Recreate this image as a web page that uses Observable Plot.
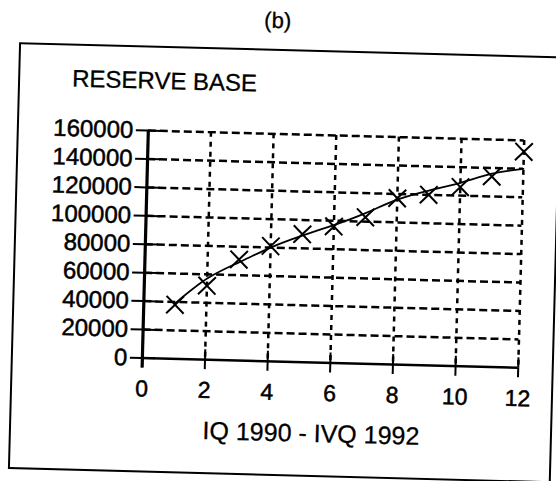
<!DOCTYPE html>
<html>
<head>
<meta charset="utf-8">
<script src="https://cdn.jsdelivr.net/npm/d3@7"></script>
<script src="https://cdn.jsdelivr.net/npm/@observablehq/plot@0.6"></script>
<style>
  html, body { margin: 0; padding: 0; background: #fff; overflow: hidden; }
  #page { position: relative; width: 556px; height: 481px; overflow: hidden; background: #fff; }
  #sheet { position: absolute; left: 0; top: 0; width: 556px; height: 481px;
           transform: rotate(1.5deg); transform-origin: 278px 240px;
           font-family: "Liberation Sans", Arial, sans-serif; color: #000; }
  #frame { position: absolute; left: 14px; top: 49px; width: 543px; height: 427px;
           border: 2.5px solid #000; box-sizing: border-box; }
  #panel { position: absolute; left: 0; top: 10px; width: 544px; text-align: center;
           font-size: 22px; line-height: 22px; -webkit-text-stroke: 0.3px #000; }
  #ytitle { position: absolute; left: 68px; top: 72px; font-size: 24px; line-height: 24px; white-space: nowrap; -webkit-text-stroke: 0.3px #000; }
  #xtitle { position: absolute; left: 116px; top: 420px; width: 400px; text-align: center;
            font-size: 25px; line-height: 25px; white-space: nowrap; -webkit-text-stroke: 0.3px #000; }
  #chart { position: absolute; left: 0; top: 0; }
  #chart svg text { stroke: #000; stroke-width: 0.5px; }
</style>
</head>
<body>
<div id="page">
  <div id="sheet">
    <div id="frame"></div>
    <div id="panel">(b)</div>
    <div id="ytitle">RESERVE BASE</div>
    <div id="xtitle">IQ 1990 - IVQ 1992</div>
    <div id="chart"></div>
  </div>
</div>
<script>
// Quarter index (IQ 1990 = 1 ... IVQ 1992 = 12)
const quarters = [1, 2, 3, 4, 5, 6, 7, 8, 9, 10, 11, 12];
// Observed reserve base (X markers)
const reserveBase = [38000, 52000, 71000, 81000, 90000, 96000, 103000, 117000, 120000, 126000, 134000, 152000];
// Fitted trend curve
const trend = [39000, 57000, 69000, 80000, 89000, 97000, 106000, 116000, 123000, 129000, 136000, 140000];
// Tick labels
const xTicks = [0, 2, 4, 6, 8, 10, 12];
const yTicks = [0, 20000, 40000, 60000, 80000, 100000, 120000, 140000, 160000];

const points = quarters.map((q, i) => ({q, v: reserveBase[i]}));
const trendPts = quarters.map((q, i) => ({q, v: trend[i]}));

const chart = Plot.plot({
  width: 556,
  height: 481,
  marginLeft: 145,
  marginRight: 35,
  marginTop: 133.5,
  marginBottom: 120,
  style: {fontFamily: '"Liberation Sans", Arial, sans-serif', background: "transparent", color: "#000", overflow: "visible"},
  x: {domain: [0, 12], ticks: xTicks},
  y: {domain: [0, 160000], ticks: yTicks},
  marks: [
    Plot.gridY(yTicks.filter(d => d > 0), {stroke: "#000", strokeOpacity: 1, strokeWidth: 2.5, strokeDasharray: "8,4"}),
    Plot.gridX(xTicks.filter(d => d > 0), {stroke: "#000", strokeOpacity: 1, strokeWidth: 2.5, strokeDasharray: "5,5"}),
    Plot.ruleY(yTicks, {y: d => d, x1: 0, x2: 0.42, stroke: "#000", strokeWidth: 2}),
    Plot.ruleX(xTicks.filter(d => d > 0), {x: d => d, y1: 0, y2: 7000, stroke: "#000", strokeWidth: 2}),
    Plot.ruleY([0], {x1: 0, x2: 12, stroke: "#000", strokeWidth: 2.5}),
    Plot.ruleX([0], {y1: -7000, y2: 160000, stroke: "#000", strokeWidth: 3.2}),
    Plot.axisY(yTicks, {tickSize: 12, tickPadding: 3, fontSize: 24, tickFormat: d3.format("d"), label: null, stroke: "#000", strokeWidth: 2}),
    Plot.axisX(xTicks, {tickSize: 10, tickPadding: 12, fontSize: 23, label: null, stroke: "#000", strokeWidth: 2}),
    Plot.line(trendPts, {x: "q", y: "v", curve: "natural", stroke: "#000", strokeWidth: 1.8}),
    Plot.dot(points, {x: "q", y: "v", symbol: "times", r: 8, stroke: "#000", strokeWidth: 2})
  ]
});
document.getElementById("chart").appendChild(chart);
</script>
</body>
</html>
